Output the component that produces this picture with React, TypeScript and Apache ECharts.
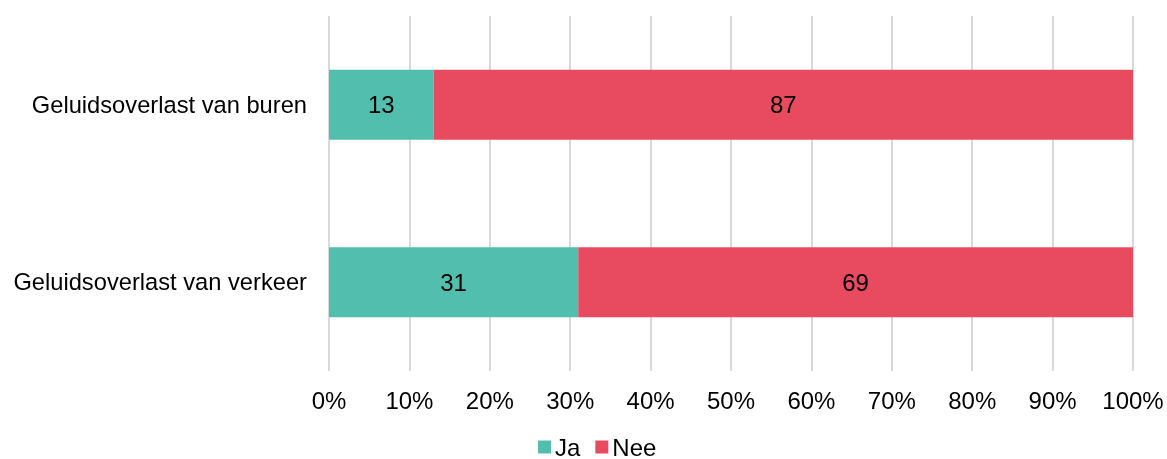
import React, { useEffect, useRef } from "react";
import * as echarts from "echarts";

const categories = ["Geluidsoverlast van buren", "Geluidsoverlast van verkeer"];
const jaValues = [13, 31];
const neeValues = [87, 69];
const seriesNames = ["Ja", "Nee"];
const colors = ["#52BFAE", "#E84B60"];

export default function App() {
  const ref = useRef<HTMLDivElement>(null);
  useEffect(() => {
    const chart = echarts.init(ref.current!, null, { renderer: "svg" });
    const font = "Liberation Sans, Arial, sans-serif";
    chart.setOption({
      animation: false,
      textStyle: { fontFamily: font },
      grid: { left: 329, right: 34, top: 16, bottom: 88, containLabel: false },
      legend: {
        top: 435,
        left: 538,
        itemWidth: 13,
        itemHeight: 13,
        itemGap: 15,
        icon: "rect",
        padding: 0,
        textStyle: { fontSize: 24, color: "#000", fontFamily: font, padding: [0, 0, 0, -1] },
        data: seriesNames,
      },
      xAxis: {
        type: "value",
        min: 0,
        max: 100,
        interval: 10,
        axisLine: { show: false },
        axisTick: { show: false },
        axisLabel: { formatter: "{value}%", fontSize: 24, color: "#000", margin: 17, fontFamily: font },
        splitLine: { show: true, lineStyle: { color: "#d9d9d9", width: 2 } },
      },
      yAxis: {
        type: "category",
        data: categories,
        inverse: true,
        axisLine: { show: false },
        axisTick: { show: false },
        axisLabel: { fontSize: 23.7, color: "#000", margin: 22, fontFamily: font },
      },
      series: [
        {
          name: seriesNames[0],
          type: "bar",
          stack: "total",
          data: jaValues,
          barWidth: 70,
          itemStyle: { color: colors[0] },
          label: { show: true, position: "inside", fontSize: 24, color: "#000", fontFamily: font },
        },
        {
          name: seriesNames[1],
          type: "bar",
          stack: "total",
          data: neeValues,
          barWidth: 70,
          itemStyle: { color: colors[1] },
          label: { show: true, position: "inside", fontSize: 24, color: "#000", fontFamily: font },
        },
      ],
    });
    return () => chart.dispose();
  }, []);
  return (
    <div
      ref={ref}
      style={{ position: "fixed", left: 0, top: 0, width: 1167, height: 459 }}
    />
  );
}
